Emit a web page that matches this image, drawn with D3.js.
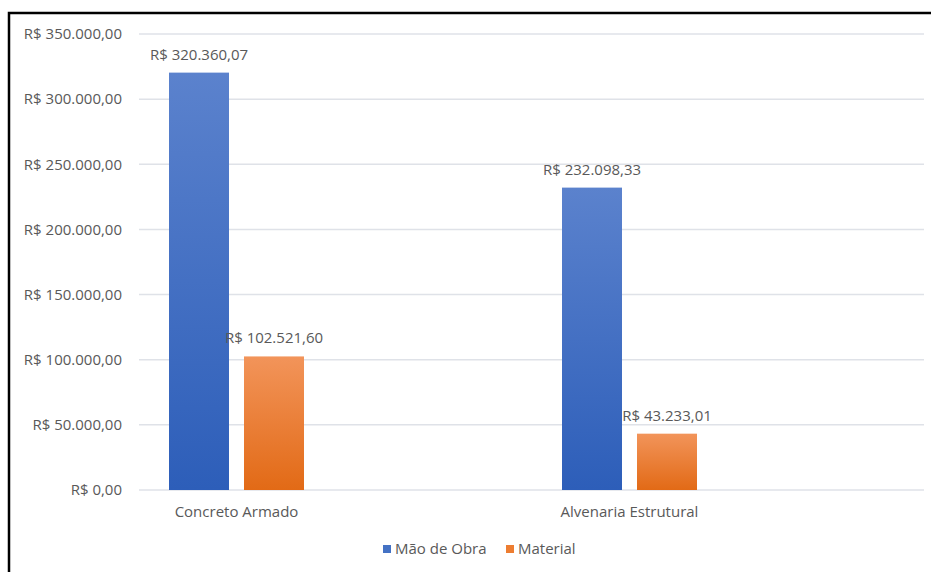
<!DOCTYPE html>
<html>
<head>
<meta charset="utf-8">
<script src="https://cdn.jsdelivr.net/npm/d3@7"></script>
<style>
body { margin: 0; background: #fff; }
text { font-family: "Open Sans", "Noto Sans", sans-serif; fill: #595959; }
</style>
</head>
<body>
<div id="chart"></div>
<script>
// data
var categories = ['Concreto Armado', 'Alvenaria Estrutural'];
var seriesNames = ['Mão de Obra', 'Material'];
var maoDeObra = [320360.07, 232098.33];
var material = [102521.60, 43233.01];
var yTicks = [0, 50000, 100000, 150000, 200000, 250000, 300000, 350000];

var width = 931, height = 572;

var fmt = d3.formatLocale({decimal: ',', thousands: '.', grouping: [3], currency: ['R$ ', '']}).format('$,.2f');

var svg = d3.select('#chart').append('svg')
    .attr('width', width)
    .attr('height', height);

var defs = svg.append('defs');
var grads = [['gBlue', '#5b82cd', '#2d5eb9'], ['gOrange', '#f2945a', '#e26a16']];
grads.forEach(function (g) {
    var lg = defs.append('linearGradient').attr('id', g[0])
        .attr('x1', 0).attr('y1', 0).attr('x2', 0).attr('y2', 1);
    lg.append('stop').attr('offset', '0%').attr('stop-color', g[1]);
    lg.append('stop').attr('offset', '100%').attr('stop-color', g[2]);
});
var fills = ['url(#gBlue)', 'url(#gOrange)'];
var legendColors = ['#4472c4', '#ed7d31'];

// frame
svg.append('path')
    .attr('d', 'M9,572 V13 H931')
    .attr('fill', 'none')
    .attr('stroke', '#000')
    .attr('stroke-width', 2.5);

var y = d3.scaleLinear().domain([0, 350000]).range([490, 34]);
var x0 = d3.scaleBand().domain(categories).range([40, 826]);
var x1 = d3.scaleBand().domain(seriesNames).range([0, 135]).paddingInner(0.2);

// grid lines
svg.append('g').attr('class', 'grid')
    .selectAll('line')
    .data(yTicks)
    .enter().append('line')
    .attr('x1', 139).attr('x2', 924)
    .attr('y1', d => y(d)).attr('y2', d => y(d))
    .attr('stroke', '#dfe2e8')
    .attr('stroke-width', 1.5);

// y axis labels
svg.append('g').attr('class', 'axis y')
    .selectAll('text')
    .data(yTicks)
    .enter().append('text')
    .attr('x', 122)
    .attr('y', d => y(d))
    .attr('dy', '0.35em')
    .attr('text-anchor', 'end')
    .attr('font-size', 15)
    .text(d => fmt(d));

// bars
var rows = categories.map(function (c, i) {
    return {cat: c, vals: [maoDeObra[i], material[i]]};
});

var groups = svg.append('g').attr('class', 'bars')
    .selectAll('g')
    .data(rows)
    .enter().append('g')
    .attr('transform', d => 'translate(' + (x0(d.cat) + x0.bandwidth() / 2 - 67.5) + ',0)');

groups.selectAll('rect')
    .data(d => d.vals.map((v, j) => ({name: seriesNames[j], v: v, j: j})))
    .enter().append('rect')
    .attr('x', d => x1(d.name))
    .attr('y', d => y(d.v))
    .attr('width', x1.bandwidth())
    .attr('height', d => y(0) - y(d.v))
    .attr('fill', d => fills[d.j]);

groups.selectAll('text.label')
    .data(d => d.vals.map((v, j) => ({name: seriesNames[j], v: v, j: j})))
    .enter().append('text')
    .attr('class', 'label')
    .attr('x', d => x1(d.name) + x1.bandwidth() / 2)
    .attr('y', d => y(d.v) - 13)
    .attr('text-anchor', 'middle')
    .attr('font-size', 15)
    .text(d => fmt(d.v));

// x axis labels
svg.append('g').attr('class', 'axis x')
    .selectAll('text')
    .data(categories)
    .enter().append('text')
    .attr('x', d => x0(d) + x0.bandwidth() / 2)
    .attr('y', 517)
    .attr('text-anchor', 'middle')
    .attr('font-size', 15)
    .text(d => d);

// legend
var legend = svg.append('g').attr('class', 'legend')
    .attr('transform', 'translate(383,549)');
var lx = [0, 123];
seriesNames.forEach(function (s, i) {
    legend.append('rect')
        .attr('x', lx[i]).attr('y', -4)
        .attr('width', 8).attr('height', 8)
        .attr('fill', legendColors[i]);
    legend.append('text')
        .attr('x', lx[i] + 12).attr('y', 0)
        .attr('dy', '0.35em')
        .attr('font-size', 15)
        .text(s);
});
</script>
</body>
</html>
